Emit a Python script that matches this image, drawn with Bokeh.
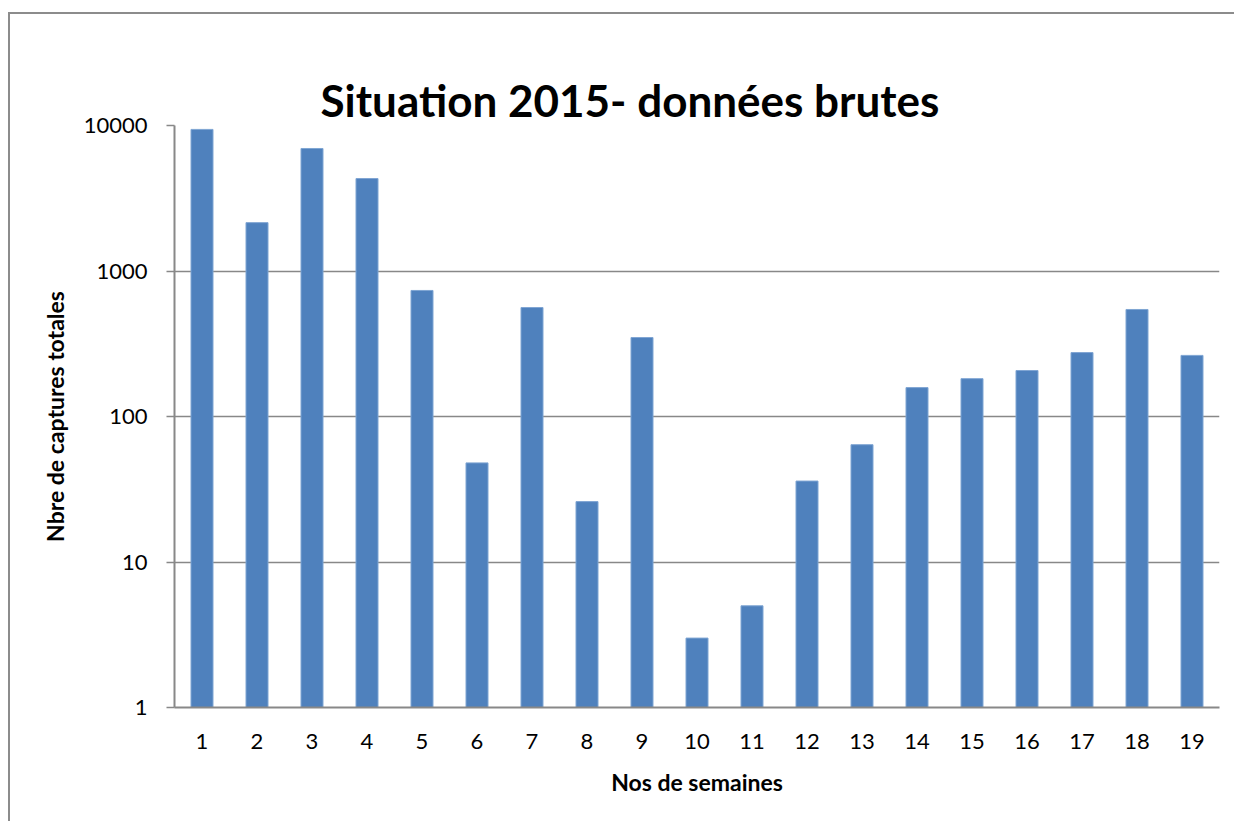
from bokeh.plotting import figure
from bokeh.embed import file_html
from bokeh.resources import INLINE
from bokeh.models import FixedTicker, CustomJSTickFormatter, Title

weeks = [str(i) for i in range(1, 20)]
captures = [9400, 2150, 6950, 4320, 735, 48, 561, 26, 349, 3, 5, 36, 64, 158, 182, 207, 275, 544, 263]
y_ticks = [1, 10, 100, 1000, 10000]
title_text = "Situation 2015- données brutes"

FONT = "Lato"
GRAY = "#888888"

p = figure(x_range=weeks, y_range=(1, 10000), y_axis_type="log",
           width=1226, height=809, output_backend="svg", toolbar_location=None,
           min_border_left=164, min_border_right=17, min_border_top=111, min_border_bottom=116)
p.styles = {"margin-left": "8px", "margin-top": "12px",
            "border-left": "2px solid #8c8c8c", "border-top": "2px solid #8c8c8c"}

p.vbar(x=weeks, top=captures, bottom=1, width=0.4, fill_color="#4F81BD",
       line_color="#7FA5D3", line_width=1)

# real title first, then a blank spacer title that sits between it and the frame
p.add_layout(Title(text=title_text, align="left", offset=146,
                   text_font=FONT, text_font_size="44px", text_font_style="bold",
                   text_color="#000000", standoff=0), "above")
p.add_layout(Title(text=" ", text_font_size="1px", text_color=None, standoff=36), "above")

p.outline_line_color = None
p.xgrid.grid_line_color = None
p.ygrid.grid_line_color = GRAY
p.ygrid.grid_line_width = 1.5
p.ygrid.ticker = FixedTicker(ticks=y_ticks)

p.yaxis.ticker = FixedTicker(ticks=y_ticks, minor_ticks=[])
p.yaxis.formatter = CustomJSTickFormatter(code="return tick.toFixed(0);")
p.yaxis.axis_line_color = GRAY
p.yaxis.axis_line_width = 2
p.yaxis.major_tick_line_color = GRAY
p.yaxis.major_tick_line_width = 1.5
p.yaxis.major_tick_out = 8
p.yaxis.major_tick_in = 0
p.yaxis.minor_tick_line_color = None
p.yaxis.major_label_standoff = 19
p.yaxis.axis_label = "Nbre de captures totales"
p.yaxis.axis_label_standoff = 12

p.xaxis.axis_line_color = GRAY
p.xaxis.axis_line_width = 2
p.xaxis.major_tick_line_color = None
p.xaxis.minor_tick_line_color = None
p.xaxis.major_label_standoff = 20
p.xaxis.axis_label = "Nos de semaines"
p.xaxis.axis_label_standoff = 16

for ax in (p.xaxis[0], p.yaxis[0]):
    ax.major_label_text_font = FONT
    ax.major_label_text_font_size = "22px"
    ax.major_label_text_color = "#000000"
    ax.axis_label_text_font = FONT
    ax.axis_label_text_font_size = "23px"
    ax.axis_label_text_font_style = "bold"
    ax.axis_label_text_color = "#000000"

p.x_range.range_padding = 0
p.border_fill_color = "white"

open("out.html", "w").write(file_html(p, INLINE))
